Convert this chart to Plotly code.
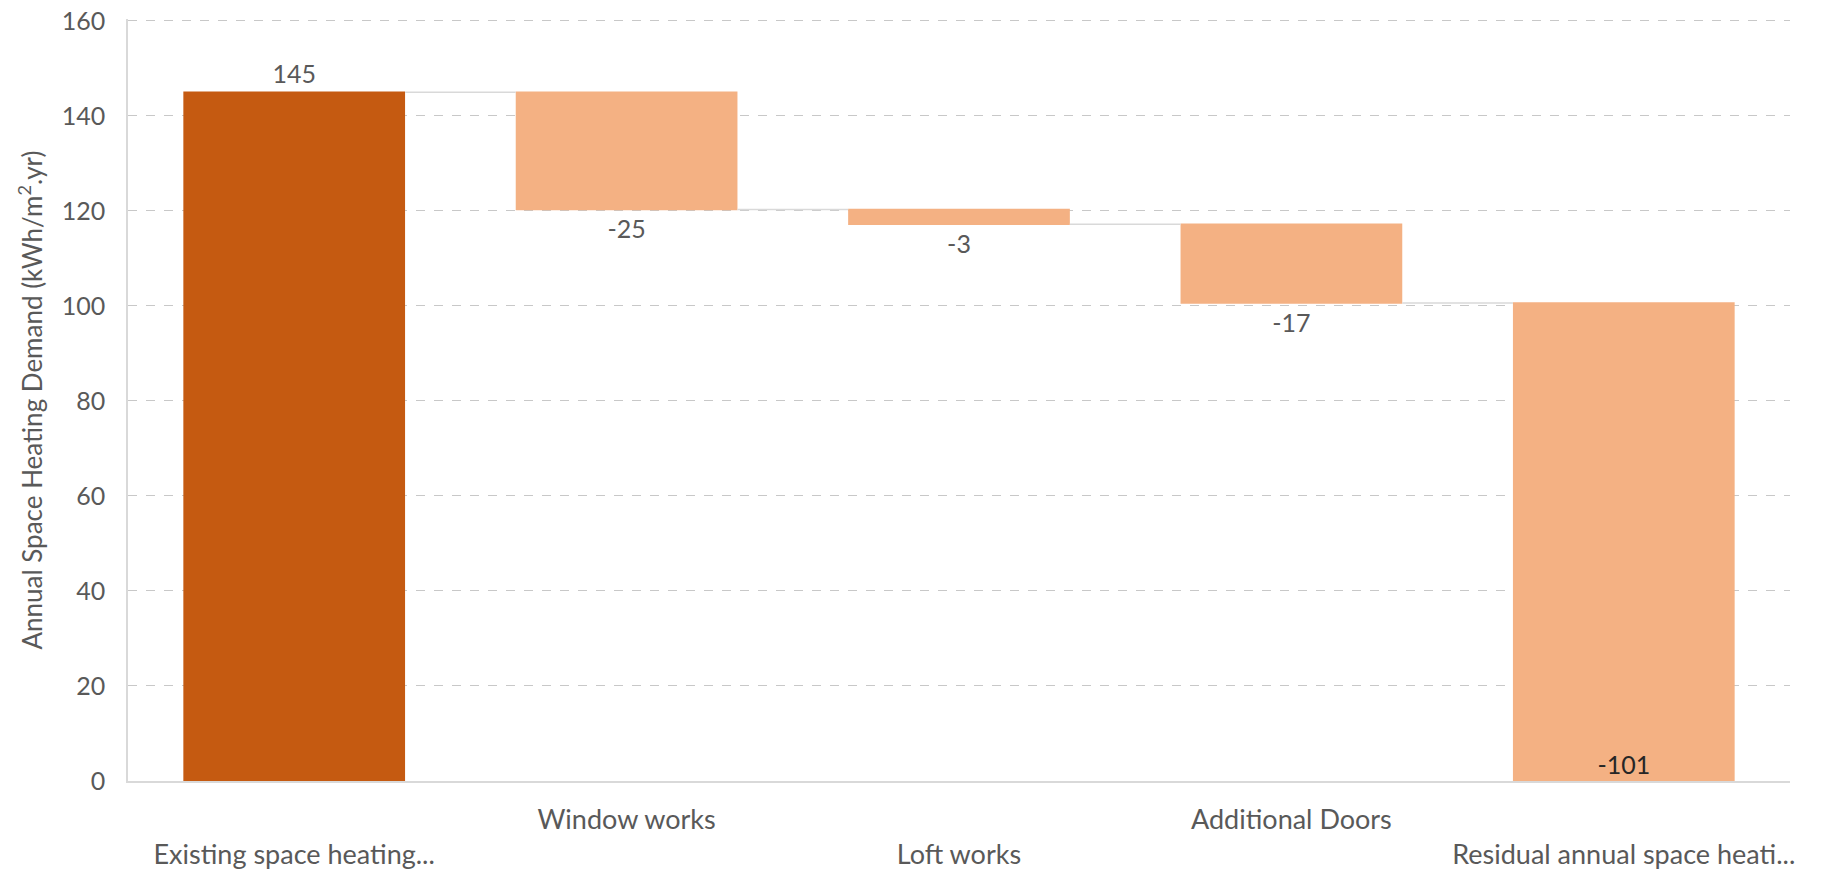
import plotly.graph_objects as go

categories = ["Existing space heating...", "Window works", "Loft works",
              "Additional Doors", "Residual annual space heati..."]
measures = ["relative", "relative", "relative", "relative", "total"]
values = [145, -24.7, -3.1, -16.6, 0]
labels = ["145", "-25", "-3", "-17", "-101"]
y_ticks = [0, 20, 40, 60, 80, 100, 120, 140, 160]

FONT = "Lato"
TXT = "#595959"

# Staggered category labels (every other one pushed to a second row)
ticktext = [("<br>" + c) if i % 2 == 0 else c for i, c in enumerate(categories)]
textpos = ["outside", "outside", "outside", "outside", "inside"]

fig = go.Figure(go.Waterfall(
    x=categories,
    y=values,
    measure=measures,
    text=labels,
    textposition=textpos,
    insidetextanchor="start",
    textfont=dict(family=FONT, size=25),
    outsidetextfont=dict(family=FONT, size=25, color=TXT),
    insidetextfont=dict(family=FONT, size=25, color="#262626"),
    cliponaxis=False,
    increasing=dict(marker=dict(color="#C55A11", line=dict(width=0))),
    decreasing=dict(marker=dict(color="#F4B183", line=dict(width=0))),
    totals=dict(marker=dict(color="#F4B183", line=dict(width=0))),
    connector=dict(mode="between", line=dict(color="#D9D9D9", width=1.5)),
    hoverinfo="x+y",
))

fig.update_layout(
    width=1829, height=873,
    margin=dict(l=128, r=39, t=19, b=92),
    paper_bgcolor="white", plot_bgcolor="white",
    showlegend=False,
    waterfallgap=0.333,
    font=dict(family=FONT, size=25, color=TXT),
    xaxis=dict(
        tickmode="array", tickvals=categories, ticktext=ticktext,
        showline=True, linecolor="#D9D9D9", linewidth=1.5,
        showgrid=False, ticks="", ticklabelstandoff=14, automargin=False,
        tickfont=dict(family=FONT, size=27, color=TXT),
    ),
    yaxis=dict(
        range=[0, 160.4], tickvals=y_ticks, automargin=False,
        showline=True, linecolor="#D9D9D9", linewidth=1.5,
        showgrid=True, gridcolor="#C8C8C8", gridwidth=1.3, griddash="dash",
        zeroline=False, ticks="", ticklabelstandoff=16,
        tickfont=dict(family=FONT, size=25, color=TXT),
        title=dict(text="Annual Space Heating Demand (kWh/m<sup>2</sup>.yr)",
                   font=dict(family=FONT, size=26, color=TXT), standoff=12),
    ),
)

fig.write_html("out.html")
